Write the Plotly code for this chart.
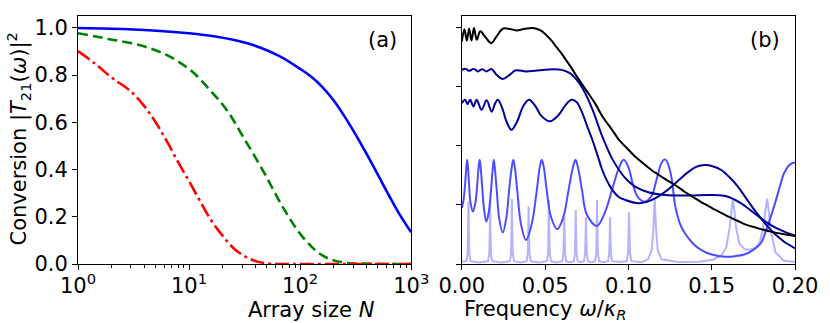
import plotly.graph_objects as go

# ---- panel (a): conversion vs array size N (log x) ----
n_blue = [1, 3.16, 10, 17.8, 31.6, 39.8, 50.1, 63.1, 79.4, 100, 126, 158, 200, 251, 316, 398, 501, 631, 794, 1000]
conv_blue = [0.999, 0.993, 0.977, 0.962, 0.938, 0.923, 0.905, 0.883, 0.857, 0.826, 0.793, 0.750, 0.693,
             0.625, 0.548, 0.465, 0.378, 0.290, 0.207, 0.134]

n_green = [1, 1.87, 3.7, 6.4, 10.4, 15.6, 22, 31, 47, 70, 106, 160, 242, 479, 1000]
conv_green = [0.977, 0.953, 0.925, 0.883, 0.819, 0.734, 0.650, 0.535, 0.390, 0.240, 0.113, 0.035, 0.007, 0.001, 0.0]

n_red = [1, 1.41, 2, 3, 4, 5, 6.3, 7.9, 10, 12.6, 15.8, 20, 25, 31.6, 40, 50, 63, 100, 1000]
conv_red = [0.901, 0.850, 0.790, 0.730, 0.665, 0.600, 0.520, 0.435, 0.350, 0.265, 0.185, 0.120, 0.068, 0.033, 0.012, 0.003, 0.0, 0.0, 0.0]

# ---- panel (b): conversion vs frequency (omega / kappa_R) ----
black_pts = [
    (0.0000, 0.942), (0.0016, 0.994), (0.0030, 0.946), (0.0044, 0.997), (0.0058, 0.946),
    (0.0073, 0.999), (0.0090, 0.949), (0.0111, 0.985), (0.0140, 0.962), (0.0177, 0.935),
    (0.0210, 0.965), (0.0248, 0.997), (0.0290, 0.995), (0.0327, 0.989), (0.0380, 0.996),
    (0.0427, 0.999), (0.0470, 0.990), (0.0506, 0.970), (0.0540, 0.945), (0.0565, 0.921),
    (0.0600, 0.890), (0.0625, 0.864), (0.0649, 0.840), (0.0684, 0.801), (0.0748, 0.734),
    (0.0800, 0.680), (0.0847, 0.621), (0.0900, 0.570), (0.0946, 0.523), (0.0982, 0.497),
    (0.1045, 0.452), (0.1100, 0.420), (0.1144, 0.395), (0.1180, 0.378), (0.1244, 0.350),
    (0.1300, 0.325), (0.1339, 0.305), (0.1380, 0.287), (0.1460, 0.253), (0.1520, 0.230),
    (0.1580, 0.208), (0.1657, 0.182), (0.1700, 0.168), (0.1775, 0.152), (0.1855, 0.137),
    (0.1935, 0.126), (0.2000, 0.119),
]

navy1_pts = [
    (0.0000, 0.822), (0.0015, 0.826), (0.0028, 0.825), (0.0038, 0.819), (0.0048, 0.818),
    (0.0062, 0.824), (0.0077, 0.825), (0.0090, 0.818), (0.0097, 0.815), (0.0112, 0.822),
    (0.0127, 0.824), (0.0147, 0.815), (0.0177, 0.826), (0.0210, 0.800), (0.0246, 0.783),
    (0.0285, 0.800), (0.0325, 0.820), (0.0385, 0.815), (0.0440, 0.818), (0.0500, 0.822),
    (0.0557, 0.825), (0.0600, 0.822), (0.0649, 0.808), (0.0690, 0.780), (0.0724, 0.745),
    (0.0784, 0.655), (0.0843, 0.540), (0.0903, 0.445), (0.0962, 0.380), (0.1000, 0.350),
    (0.1040, 0.328), (0.1120, 0.304), (0.1220, 0.292), (0.1360, 0.290), (0.1498, 0.292),
    (0.1597, 0.285), (0.1677, 0.257), (0.1756, 0.215), (0.1855, 0.165), (0.1935, 0.137),
    (0.2000, 0.120),
]

navy3_pts = [
    (0.0000, 0.681), (0.0020, 0.695), (0.0034, 0.677), (0.0050, 0.695), (0.0070, 0.667),
    (0.0089, 0.695), (0.0119, 0.653), (0.0149, 0.693), (0.0179, 0.645), (0.0200, 0.680),
    (0.0216, 0.695), (0.0240, 0.665), (0.0270, 0.600), (0.0298, 0.568), (0.0330, 0.600),
    (0.0370, 0.670), (0.0404, 0.695), (0.0440, 0.670), (0.0480, 0.625), (0.0530, 0.604),
    (0.0580, 0.630), (0.0625, 0.675), (0.0660, 0.695), (0.0690, 0.685), (0.0724, 0.638),
    (0.0754, 0.580), (0.0784, 0.525), (0.0815, 0.460), (0.0843, 0.398), (0.0873, 0.350),
    (0.0903, 0.314), (0.0940, 0.285), (0.0982, 0.271), (0.1060, 0.257), (0.1110, 0.263),
    (0.1160, 0.278), (0.1210, 0.300), (0.1260, 0.328), (0.1310, 0.360), (0.1360, 0.390),
    (0.1410, 0.412), (0.1458, 0.419), (0.1510, 0.413), (0.1557, 0.398), (0.1610, 0.365),
    (0.1657, 0.328), (0.1710, 0.275), (0.1756, 0.229), (0.1805, 0.185), (0.1855, 0.144),
    (0.1895, 0.117), (0.1935, 0.094), (0.2000, 0.066),
]

medium_pts = [
    (0.0000, 0.237), (0.0010, 0.270), (0.0020, 0.340), (0.0027, 0.410), (0.0032, 0.441),
    (0.0037, 0.410), (0.0044, 0.330), (0.0052, 0.260), (0.0067, 0.222), (0.0082, 0.260),
    (0.0093, 0.340), (0.0101, 0.410), (0.0107, 0.441), (0.0113, 0.410), (0.0122, 0.330),
    (0.0132, 0.240), (0.0147, 0.179), (0.0162, 0.220), (0.0175, 0.310), (0.0185, 0.400),
    (0.0192, 0.441), (0.0199, 0.400), (0.0210, 0.310), (0.0225, 0.190), (0.0246, 0.133),
    (0.0268, 0.200), (0.0285, 0.320), (0.0300, 0.410), (0.0309, 0.441), (0.0318, 0.410),
    (0.0333, 0.310), (0.0355, 0.170), (0.0385, 0.102), (0.0420, 0.170), (0.0448, 0.300),
    (0.0468, 0.410), (0.0480, 0.441), (0.0492, 0.410), (0.0510, 0.310), (0.0535, 0.200),
    (0.0573, 0.147), (0.0610, 0.200), (0.0640, 0.310), (0.0667, 0.410), (0.0682, 0.441),
    (0.0697, 0.410), (0.0720, 0.320), (0.0750, 0.210), (0.0811, 0.161), (0.0860, 0.220),
    (0.0900, 0.310), (0.0945, 0.410), (0.0972, 0.441), (0.1000, 0.410), (0.1030, 0.330),
    (0.1060, 0.280), (0.1100, 0.264), (0.1140, 0.290), (0.1170, 0.360), (0.1200, 0.430),
    (0.1220, 0.443), (0.1240, 0.420), (0.1260, 0.360), (0.1280, 0.250), (0.1310, 0.170),
    (0.1339, 0.130), (0.1390, 0.085), (0.1438, 0.059), (0.1500, 0.040), (0.1577, 0.031),
    (0.1640, 0.033), (0.1696, 0.040), (0.1750, 0.060), (0.1795, 0.088), (0.1830, 0.150),
    (0.1874, 0.243), (0.1910, 0.330), (0.1934, 0.384), (0.1974, 0.424), (0.2000, 0.430),
]

light_pts = [
    (0.0000, 0.010), (0.0028, 0.012), (0.0035, 0.045), (0.0038, 0.140), (0.0040, 0.264),
    (0.0042, 0.140), (0.0045, 0.045), (0.0052, 0.012), (0.0105, 0.006),
    (0.0158, 0.012), (0.0165, 0.045), (0.0168, 0.140), (0.0170, 0.271), (0.0172, 0.140),
    (0.0175, 0.045), (0.0182, 0.012), (0.0236, 0.006),
    (0.0289, 0.012), (0.0296, 0.045), (0.0299, 0.140), (0.0301, 0.275), (0.0303, 0.140),
    (0.0306, 0.045), (0.0313, 0.012), (0.0351, 0.006),
    (0.0389, 0.012), (0.0396, 0.045), (0.0399, 0.140), (0.0401, 0.243), (0.0403, 0.140),
    (0.0406, 0.045), (0.0413, 0.012), (0.0462, 0.006),
    (0.0511, 0.012), (0.0518, 0.045), (0.0521, 0.140), (0.0523, 0.271), (0.0525, 0.140),
    (0.0528, 0.045), (0.0535, 0.012), (0.0569, 0.006),
    (0.0603, 0.012), (0.0610, 0.045), (0.0613, 0.120), (0.0615, 0.200), (0.0617, 0.120),
    (0.0620, 0.045), (0.0627, 0.012), (0.0650, 0.008),
    (0.0672, 0.012), (0.0679, 0.045), (0.0682, 0.130), (0.0684, 0.229), (0.0686, 0.130),
    (0.0689, 0.045), (0.0696, 0.012), (0.0715, 0.008),
    (0.0733, 0.012), (0.0740, 0.045), (0.0743, 0.120), (0.0745, 0.200), (0.0747, 0.120),
    (0.0750, 0.045), (0.0757, 0.012), (0.0779, 0.008),
    (0.0800, 0.012), (0.0807, 0.045), (0.0810, 0.140), (0.0812, 0.271), (0.0814, 0.140),
    (0.0817, 0.045), (0.0824, 0.012), (0.0851, 0.008),
    (0.0878, 0.012), (0.0885, 0.045), (0.0888, 0.120), (0.0890, 0.200), (0.0892, 0.120),
    (0.0895, 0.045), (0.0902, 0.012), (0.0947, 0.008),
    (0.0990, 0.012), (0.0998, 0.045), (0.1001, 0.130), (0.1004, 0.219), (0.1007, 0.130),
    (0.1010, 0.045), (0.1018, 0.012), (0.1080, 0.008),
    (0.1118, 0.020), (0.1140, 0.060), (0.1150, 0.150), (0.1158, 0.274), (0.1166, 0.150),
    (0.1176, 0.060), (0.1198, 0.020), (0.1300, 0.008), (0.1420, 0.010),
    (0.1507, 0.018), (0.1557, 0.035), (0.1587, 0.070), (0.1607, 0.150), (0.1617, 0.220),
    (0.1627, 0.275), (0.1637, 0.220), (0.1647, 0.150), (0.1667, 0.085), (0.1700, 0.062),
    (0.1730, 0.060), (0.1765, 0.070), (0.1790, 0.095), (0.1808, 0.150), (0.1823, 0.230),
    (0.1833, 0.277), (0.1843, 0.220), (0.1858, 0.130), (0.1883, 0.050), (0.1930, 0.015),
    (0.2000, 0.008),
]

font = dict(family="DejaVu Sans", size=21, color="black")

fig = go.Figure()

fig.add_trace(go.Scatter(x=n_blue, y=conv_blue, mode="lines", line=dict(color="#0000ff", width=2.6, shape="spline"),
                         xaxis="x", yaxis="y"))
fig.add_trace(go.Scatter(x=n_green, y=conv_green, mode="lines",
                         line=dict(color="#008000", width=2.6, dash="10px,5px", shape="spline"),
                         xaxis="x", yaxis="y"))
fig.add_trace(go.Scatter(x=n_red, y=conv_red, mode="lines",
                         line=dict(color="#ff0000", width=2.6, dash="14px,4px,3px,4px", shape="spline"),
                         xaxis="x", yaxis="y"))


def xy(pts):
    return [p[0] for p in pts], [p[1] for p in pts]


for pts, col, shp in [(light_pts, "#b3b3ff", "linear"),
                      (medium_pts, "#4d4dff", "spline"),
                      (navy3_pts, "#000099", "spline"),
                      (navy1_pts, "#000099", "spline"),
                      (black_pts, "#000000", "spline")]:
    xs, ys = xy(pts)
    fig.add_trace(go.Scatter(x=xs, y=ys, mode="lines", line=dict(color=col, width=2, shape=shp),
                             xaxis="x2", yaxis="y2"))

axis_common = dict(showline=True, linecolor="black", linewidth=1, mirror=True, ticks="outside",
                   ticklen=5, tickwidth=1, tickcolor="black", showgrid=False, zeroline=False,
                   tickfont=font)

minor_vals = [m * 10 ** d for d in range(3) for m in range(2, 10)]

fig.update_layout(
    width=830, height=323,
    margin=dict(l=78, r=29, t=16, b=59),
    paper_bgcolor="white", plot_bgcolor="white",
    showlegend=False,
    font=font,
    xaxis=dict(axis_common, domain=[0, 0.4647], type="log", range=[0, 3],
               tickvals=[1, 10, 100, 1000],
               ticktext=["10<sup>0</sup>", "10<sup>1</sup>", "10<sup>2</sup>", "10<sup>3</sup>"],
               ticklabelstandoff=-2,
               minor=dict(tickvals=minor_vals, ticks="outside", ticklen=3, tickcolor="black")),
    yaxis=dict(axis_common, anchor="x", range=[0, 1.05], tickvals=[0, 0.2, 0.4, 0.6, 0.8, 1.0],
               tickformat=".1f"),
    xaxis2=dict(axis_common, domain=[0.5353, 1], anchor="y2", range=[0, 0.2],
                tickvals=[0, 0.05, 0.1, 0.15, 0.2], tickformat=".2f", ticklabelstandoff=-2),
    yaxis2=dict(axis_common, anchor="x2", range=[0, 1.05], tickvals=[0, 0.25, 0.5, 0.75, 1.0],
                showticklabels=False),
)

fig.add_annotation(text="Array size <i>N</i>", x=0.2337, y=-0.185, xref="paper", yref="paper",
                   showarrow=False, font=font, yanchor="middle")
fig.add_annotation(text="Frequency <i>ω</i>/<i>κ</i><sub><i>R</i></sub>", x=0.767, y=-0.185,
                   xref="paper", yref="paper", showarrow=False, font=font, yanchor="middle")
fig.add_annotation(text="Conversion |<i>T</i><sub>21</sub>(<i>ω</i>)|<sup>2</sup>", x=-0.083, y=0.504,
                   xref="paper", yref="paper", showarrow=False, font=font, textangle=-90,
                   xanchor="center", yanchor="middle")

fig.add_annotation(text="(a)", x=2.74, y=0.95, xref="x", yref="y", showarrow=False, font=font)
fig.add_annotation(text="(b)", x=0.182, y=0.95, xref="x2", yref="y2", showarrow=False, font=font)

# drop the page's default body margin so the 830x323 figure sits at the window origin
fig.write_html("out.html", config={"displayModeBar": False},
               post_script="document.body.style.margin = '0';")
